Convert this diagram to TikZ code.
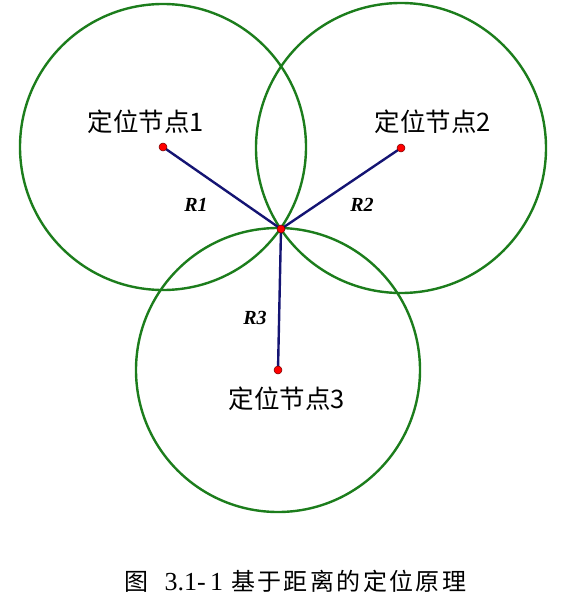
\documentclass[tikz,border=0pt]{standalone}
\usepackage{fontspec}
\newfontfamily\cjk{Noto Sans CJK SC}
\newfontfamily\cjkwide[LetterSpace=10]{Noto Sans CJK SC}
\newfontfamily\serifb{Liberation Serif}
\definecolor{ringgreen}{RGB}{28,125,28}
\definecolor{linkblue}{RGB}{20,20,115}
\tikzset{
  ring/.style={draw=ringgreen, line width=2.4pt},
  link/.style={draw=linkblue, line width=2.4pt},
  dot/.style={circle, fill=red, draw=red!45!black, line width=0.5pt, inner sep=0pt, minimum size=8pt},
  nodelabel/.style={font=\cjk\fontsize{25.5}{28}\selectfont, inner sep=0pt},
  rlabel/.style={font=\serifb\bfseries\itshape\fontsize{20}{23}\selectfont, inner sep=0pt},
}
\begin{document}
\begin{tikzpicture}[x=1pt,y=-1pt]
\useasboundingbox (0,0) rectangle (561,602);
\coordinate (p1) at (163,147);
\coordinate (p2) at (401,148);
\coordinate (p3) at (278,370);
\coordinate (pc) at (281,229);
\draw[ring] (p1) circle[radius=143pt];
\draw[ring] (p2) circle[radius=145pt];
\draw[ring] (p3) circle[radius=142pt];
\draw[link] (p1) -- (pc);
\draw[link] (p2) -- (pc);
\draw[link] (p3) -- (pc);
\node[dot] (n1) at (p1) {};
\node[dot] (n2) at (p2) {};
\node[dot] (n3) at (p3) {};
\node[dot] (nc) at (pc) {};
\node[nodelabel] (l1) at (146,122) {定位节点1};
\node[nodelabel] (l2) at (433,122) {定位节点2};
\node[nodelabel] (l3) at (287,399) {定位节点3};
\node[rlabel] (r1) at (196,205) {R1};
\node[rlabel] (r2) at (362,205) {R2};
\node[rlabel] (r3) at (255,318) {R3};
\node[inner sep=0pt, font=\fontsize{24}{27}\selectfont] (cap) at (295.5,581) {{\cjk 图}\hspace{16pt}{\serifb\fontsize{26}{28}\selectfont 3.1-\,1}\hspace{8pt}{\cjkwide 基于距离的定位原理}};
\end{tikzpicture}
\end{document}
